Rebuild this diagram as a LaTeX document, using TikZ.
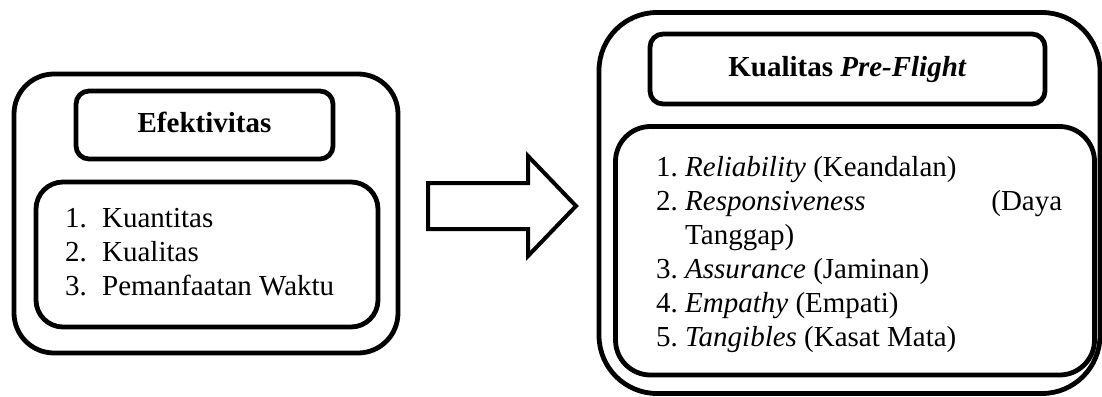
\documentclass[tikz,border=0pt]{standalone}
\usepackage{fontspec}
\setmainfont{Liberation Serif}
\newcommand\diagfont{\fontsize{29pt}{34pt}\selectfont}
\begin{document}
\begin{tikzpicture}[x=1pt,y=-1pt,
  box/.style={draw, line width=4.8pt, rectangle, inner sep=0pt, outer sep=0pt},
  titlebox/.style={box, font=\diagfont\bfseries, text height=20pt, text depth=6pt},
  items/.style={anchor=base west, inner sep=0pt, font=\diagfont},
  blockarrow/.style={draw, line width=4pt, line join=miter}]
\useasboundingbox (0,0) rectangle (1102,396);

% left group: Efektivitas
\node[box, rounded corners=40pt, minimum width=384pt, minimum height=279pt] (effOuter) at (206,213.5) {};
\node[titlebox, rounded corners=13pt, minimum width=257pt, minimum height=68pt] (effTitle) at (204.5,125) {Efektivitas};
\node[box, rounded corners=27pt, minimum width=342pt, minimum height=145pt] (effList) at (207,254.5) {};
\node[items] (effItems) at (65,227) {\begin{tabular}[t]{@{}p{37pt}@{}l@{}}
1. & Kuantitas\\
2. & Kualitas\\
3. & Pemanfaatan Waktu
\end{tabular}};

% block arrow between the two groups
\draw[blockarrow] (428,183) -- (528,183) -- (528,156) -- (576,206) -- (528,256) -- (528,229) -- (428,229) -- cycle;

% right group: Kualitas Pre-Flight
\node[box, rounded corners=58pt, minimum width=501pt, minimum height=381pt] (pfOuter) at (849.5,203) {};
\node[titlebox, rounded corners=13pt, minimum width=395pt, minimum height=70pt] (pfTitle) at (847.5,69) {Kualitas \textit{Pre-Flight}};
\node[box, rounded corners=35pt, minimum width=479pt, minimum height=248.5pt] (pfList) at (855,250.75) {};
\node[items] (pfItems) at (656,176) {\begin{tabular}[t]{@{}p{29pt}@{}p{377pt}@{}}
1. & \textit{Reliability} (Keandalan)\\
2. & \textit{Responsiveness}\hfill(Daya\\
   & Tanggap)\\
3. & \textit{Assurance} (Jaminan)\\
4. & \textit{Empathy} (Empati)\\
5. & \textit{Tangibles} (Kasat Mata)
\end{tabular}};
\end{tikzpicture}
\end{document}
